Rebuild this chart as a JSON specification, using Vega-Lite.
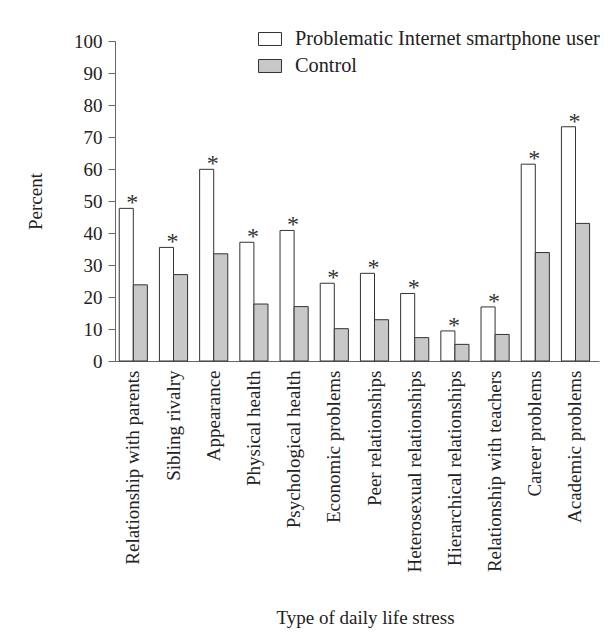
{
  "$schema": "https://vega.github.io/schema/vega-lite/v6.json",
  "width": 484,
  "height": 320,
  "autosize": "none",
  "padding": {"left": 115, "top": 41, "right": 12, "bottom": 274},
  "background": "white",
  "config": {
    "font": "Liberation Serif",
    "view": {"stroke": null},
    "axis": {"grid": false, "domainColor": "#666", "tickColor": "#666", "labelColor": "#222", "titleColor": "#222", "labelFontSize": 19, "titleFontSize": 19, "titleFontWeight": "normal", "labelOverlap": false, "labelLimit": 0}
  },
  "datasets": {
    "stress": [
      {"stress": "Relationship with parents", "group": "Problematic Internet smartphone user", "percent": 47.7, "sig": "*"},
      {"stress": "Relationship with parents", "group": "Control", "percent": 23.8},
      {"stress": "Sibling rivalry", "group": "Problematic Internet smartphone user", "percent": 35.5, "sig": "*"},
      {"stress": "Sibling rivalry", "group": "Control", "percent": 27.0},
      {"stress": "Appearance", "group": "Problematic Internet smartphone user", "percent": 59.9, "sig": "*"},
      {"stress": "Appearance", "group": "Control", "percent": 33.5},
      {"stress": "Physical health", "group": "Problematic Internet smartphone user", "percent": 37.1, "sig": "*"},
      {"stress": "Physical health", "group": "Control", "percent": 17.8},
      {"stress": "Psychological health", "group": "Problematic Internet smartphone user", "percent": 40.8, "sig": "*"},
      {"stress": "Psychological health", "group": "Control", "percent": 17.0},
      {"stress": "Economic problems", "group": "Problematic Internet smartphone user", "percent": 24.3, "sig": "*"},
      {"stress": "Economic problems", "group": "Control", "percent": 10.1},
      {"stress": "Peer relationships", "group": "Problematic Internet smartphone user", "percent": 27.4, "sig": "*"},
      {"stress": "Peer relationships", "group": "Control", "percent": 12.9},
      {"stress": "Heterosexual relationships", "group": "Problematic Internet smartphone user", "percent": 21.1, "sig": "*"},
      {"stress": "Heterosexual relationships", "group": "Control", "percent": 7.3},
      {"stress": "Hierarchical relationships", "group": "Problematic Internet smartphone user", "percent": 9.4, "sig": "*"},
      {"stress": "Hierarchical relationships", "group": "Control", "percent": 5.2},
      {"stress": "Relationship with teachers", "group": "Problematic Internet smartphone user", "percent": 16.9, "sig": "*"},
      {"stress": "Relationship with teachers", "group": "Control", "percent": 8.3},
      {"stress": "Career problems", "group": "Problematic Internet smartphone user", "percent": 61.5, "sig": "*"},
      {"stress": "Career problems", "group": "Control", "percent": 33.9},
      {"stress": "Academic problems", "group": "Problematic Internet smartphone user", "percent": 73.2, "sig": "*"},
      {"stress": "Academic problems", "group": "Control", "percent": 43.0}
    ]
  },
  "data": {"name": "stress"},
  "encoding": {
    "x": {
      "field": "stress", "type": "nominal",
      "sort": ["Relationship with parents", "Sibling rivalry", "Appearance", "Physical health", "Psychological health", "Economic problems", "Peer relationships", "Heterosexual relationships", "Hierarchical relationships", "Relationship with teachers", "Career problems", "Academic problems"],
      "scale": {"paddingInner": 0.3, "paddingOuter": 0.17, "align": 0.31},
      "axis": {"ticks": false, "labelAngle": -90, "labelAlign": "right", "labelBaseline": "middle", "labelPadding": 9, "title": "Type of daily life stress", "titleX": 250, "titleY": 262, "titleBaseline": "alphabetic", "titleAnchor": "middle", "titleAlign": "center"}
    },
    "y": {
      "field": "percent", "type": "quantitative",
      "scale": {"domain": [0, 100]},
      "axis": {"values": [0, 10, 20, 30, 40, 50, 60, 70, 80, 90, 100], "tickCount": 20, "tickSize": 7, "labelPadding": 6, "title": "Percent", "titlePadding": 28}
    }
  },
  "layer": [
    {
      "mark": {"type": "bar", "stroke": "#333", "strokeWidth": 1},
      "encoding": {
        "xOffset": {"field": "group", "type": "nominal", "sort": ["Problematic Internet smartphone user", "Control"], "scale": {"paddingInner": 0, "paddingOuter": 0}},
        "color": {
          "field": "group", "type": "nominal",
          "sort": ["Problematic Internet smartphone user", "Control"],
          "scale": {"domain": ["Problematic Internet smartphone user", "Control"], "range": ["#ffffff", "#c8c8c8"]},
          "legend": {"orient": "none", "legendX": 143, "legendY": -14, "title": null, "symbolType": "M-1,-0.565H1V0.565H-1Z", "symbolSize": 529, "symbolStrokeColor": "#333", "symbolStrokeWidth": 1, "labelFontSize": 20.3, "labelColor": "#222", "labelOffset": 13, "labelLimit": 0, "rowPadding": 4, "padding": 0}
        }
      }
    },
    {
      "transform": [{"filter": "datum.sig != null"}],
      "mark": {"type": "text", "fontSize": 24, "baseline": "alphabetic", "dy": 2, "dx": -1, "color": "#333"},
      "encoding": {
        "text": {"field": "sig"}
      }
    }
  ]
}
